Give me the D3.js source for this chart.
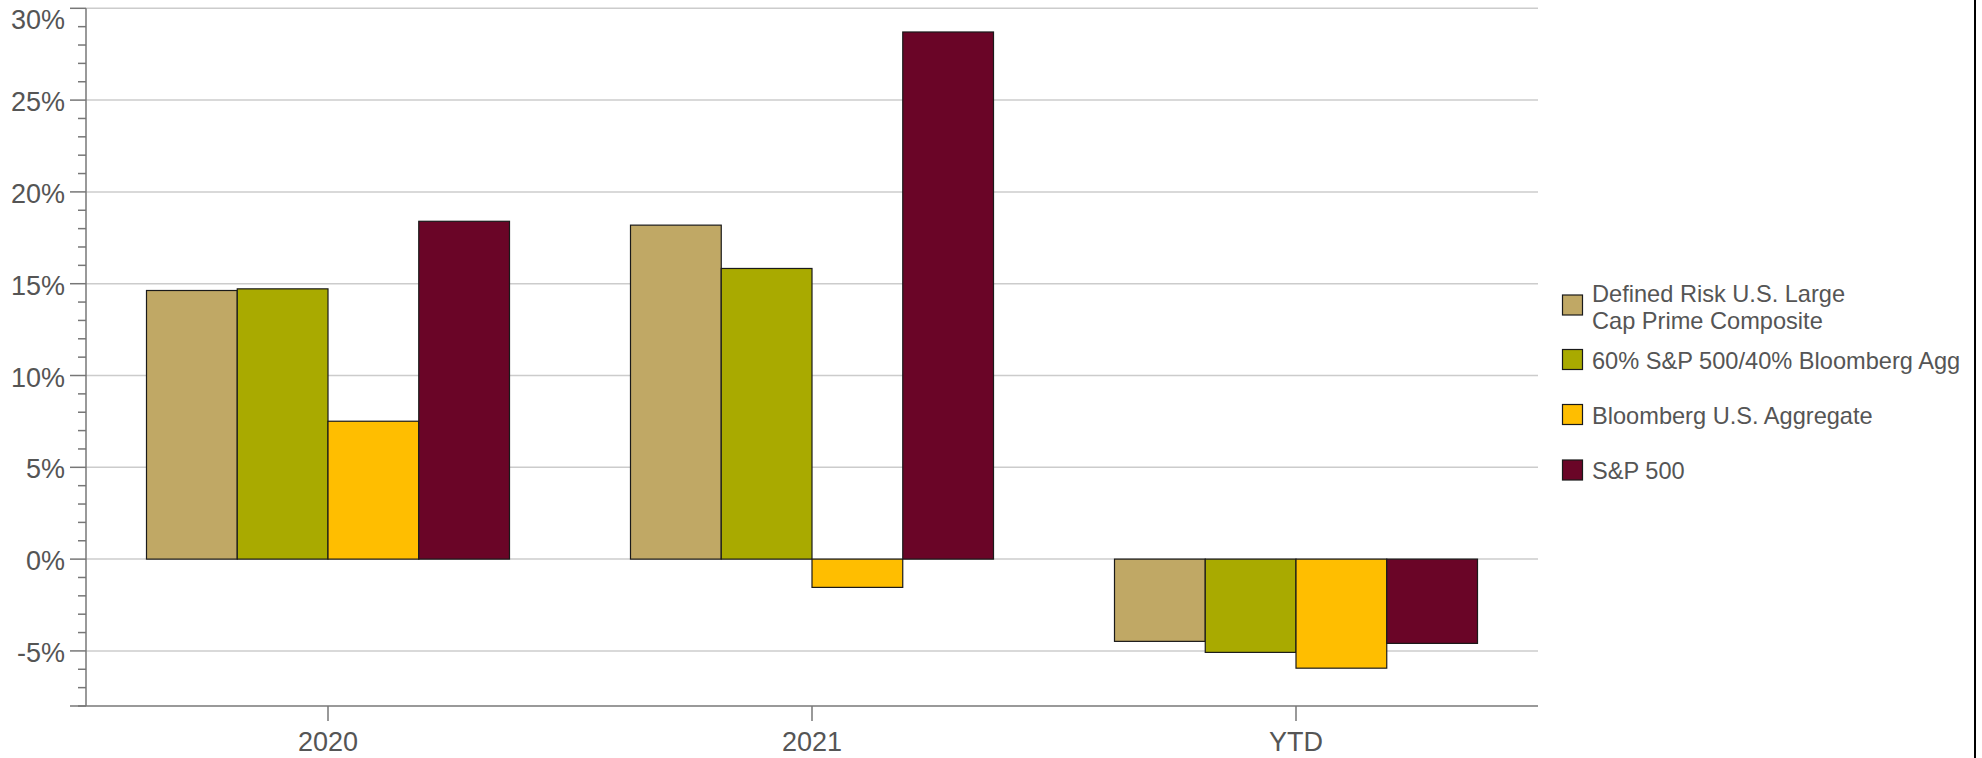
<!DOCTYPE html>
<html>
<head>
<meta charset="utf-8">
<script src="https://cdn.jsdelivr.net/npm/d3@7"></script>
<style>
  html, body { margin: 0; padding: 0; background: #fff; }
  svg { display: block; font-family: "Liberation Sans", Arial, sans-serif; }
</style>
</head>
<body>
<svg id="chart" width="1982" height="758"></svg>
<script>
// ---- data ----
const categories = ["2020", "2021", "YTD"];
const seriesNames = [
  "Defined Risk U.S. Large Cap Prime Composite",
  "60% S&P 500/40% Bloomberg Agg",
  "Bloomberg U.S. Aggregate",
  "S&P 500"
];
const definedRisk = [14.63, 18.19, -4.48];
const sixtyForty = [14.72, 15.83, -5.08];
const bloombergAgg = [7.51, -1.54, -5.94];
const sp500 = [18.40, 28.71, -4.59];
const seriesColors = ["#C0A865", "#A9AA00", "#FFBE00", "#6A0527"];
const yTickValues = [-5, 0, 5, 10, 15, 20, 25, 30];
const legendLines = [
  ["Defined Risk U.S. Large", "Cap Prime Composite"],
  ["60% S&P 500/40% Bloomberg Agg"],
  ["Bloomberg U.S. Aggregate"],
  ["S&P 500"]
];

const seriesValues = [definedRisk, sixtyForty, bloombergAgg, sp500];

(function () {
// ---- layout ----
const svg = d3.select("#chart");
const plotLeft = 86, plotRight = 1538, plotTop = 8.3, plotBottom = 706;
const textColor = "#555555";

const y = d3.scaleLinear().domain([-8, 30]).range([plotBottom, plotTop]);
const x0 = d3.scaleBand().domain(categories).range([plotLeft, plotRight])
  .paddingInner(0.25).paddingOuter(0.125);
const x1 = d3.scaleBand().domain(d3.range(seriesNames.length))
  .range([0, x0.bandwidth()]).padding(0);

// gridlines
svg.append("g").selectAll("line").data(yTickValues).join("line")
  .attr("x1", plotLeft).attr("x2", plotRight)
  .attr("y1", d => y(d)).attr("y2", d => y(d))
  .attr("stroke", "#cccccc").attr("stroke-width", 1.5);

// bars
const groups = svg.append("g").selectAll("g").data(categories).join("g")
  .attr("transform", c => `translate(${x0(c)},0)`);
groups.selectAll("rect")
  .data((c, ci) => seriesValues.map((vals, si) => ({ si, v: vals[ci] })))
  .join("rect")
  .attr("x", d => x1(d.si))
  .attr("width", x1.bandwidth())
  .attr("y", d => y(Math.max(0, d.v)))
  .attr("height", d => Math.abs(y(d.v) - y(0)))
  .attr("fill", d => seriesColors[d.si])
  .attr("stroke", "#1a1a1a")
  .attr("stroke-width", 1.2);

// y axis
const yAxisG = svg.append("g");
yAxisG.append("line").attr("x1", plotLeft).attr("x2", plotLeft)
  .attr("y1", plotTop).attr("y2", plotBottom).attr("stroke", "#777").attr("stroke-width", 1.5);
const minorTicks = d3.range(-8, 31, 1);
yAxisG.selectAll("line.minor").data(minorTicks).join("line").attr("class", "minor")
  .attr("x1", d => yTickValues.includes(d) ? plotLeft - 16 : plotLeft - 8).attr("x2", plotLeft)
  .attr("y1", d => y(d)).attr("y2", d => y(d))
  .attr("stroke", "#777").attr("stroke-width", 1.5);
yAxisG.selectAll("text").data(yTickValues).join("text")
  .attr("x", 65)
  .attr("y", d => Math.max(y(d) + 2, 19.7))
  .attr("text-anchor", "end")
  .attr("dominant-baseline", "central")
  .attr("font-size", 27)
  .attr("fill", textColor)
  .text(d => d + "%");

// x axis
const xAxisG = svg.append("g");
xAxisG.append("line").attr("x1", plotLeft - 16).attr("x2", plotRight)
  .attr("y1", plotBottom).attr("y2", plotBottom).attr("stroke", "#777").attr("stroke-width", 1.5);
xAxisG.selectAll("line.tick").data(categories).join("line").attr("class", "tick")
  .attr("x1", c => x0(c) + x0.bandwidth() / 2).attr("x2", c => x0(c) + x0.bandwidth() / 2)
  .attr("y1", plotBottom).attr("y2", plotBottom + 15)
  .attr("stroke", "#777").attr("stroke-width", 1.5);
xAxisG.selectAll("text").data(categories).join("text")
  .attr("x", c => x0(c) + x0.bandwidth() / 2)
  .attr("y", 751)
  .attr("text-anchor", "middle")
  .attr("font-size", 27)
  .attr("fill", textColor)
  .text(c => c);

// legend
const legendRows = [
  { sq: 295, base: [301.7, 329] },
  { sq: 349.5, base: [369] },
  { sq: 404.5, base: [424] },
  { sq: 460, base: [479.3] }
];
const lg = svg.append("g");
legendRows.forEach((r, i) => {
  lg.append("rect").attr("x", 1562.5).attr("y", r.sq).attr("width", 20).attr("height", 20)
    .attr("fill", seriesColors[i]).attr("stroke", "#1a1a1a").attr("stroke-width", 1.2);
  legendLines[i].forEach((t, j) => {
    lg.append("text").attr("x", 1592).attr("y", r.base[j])
      .attr("font-size", 23.6).attr("fill", textColor).text(t);
  });
});

// right border
svg.append("line").attr("x1", 1975).attr("x2", 1975).attr("y1", 0).attr("y2", 758)
  .attr("stroke", "#000").attr("stroke-width", 2);
})();
</script>
</body>
</html>
